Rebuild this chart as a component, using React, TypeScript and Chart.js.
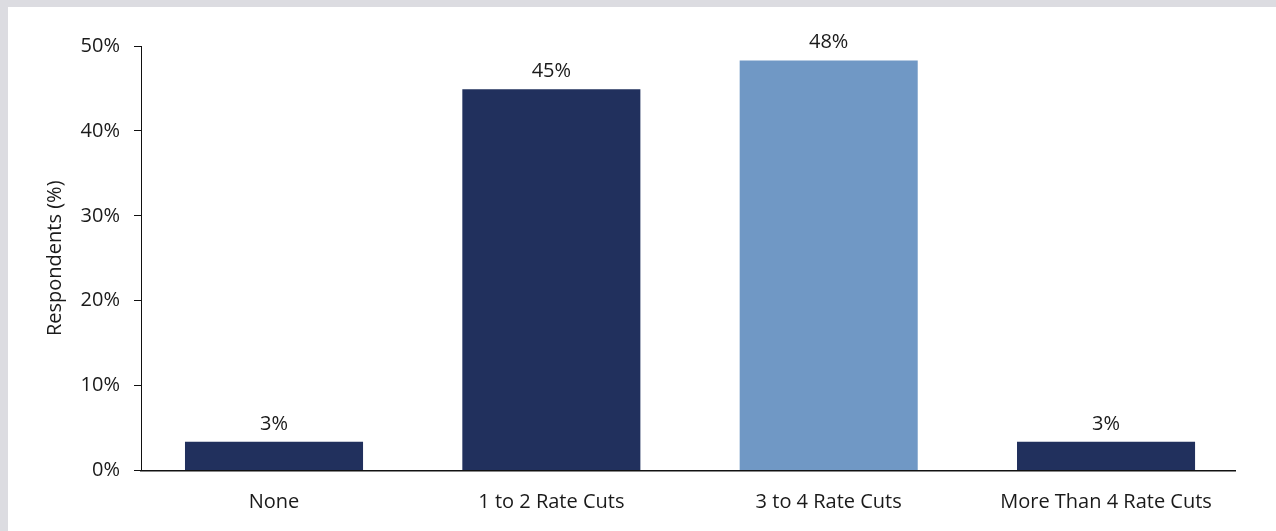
import React, { useEffect, useRef } from "react";
import { Chart, registerables } from "chart.js";

Chart.register(...registerables);

const categories = ["None", "1 to 2 Rate Cuts", "3 to 4 Rate Cuts", "More Than 4 Rate Cuts"];
const respondents = [3.4, 44.9, 48.3, 3.4];
const valueLabels = ["3%", "45%", "48%", "3%"];
const barColors = ["#21305d", "#21305d", "#7098c5", "#21305d"];
const yTicks = [0, 10, 20, 30, 40, 50];

const FONT = "'Open Sans', 'Noto Sans', sans-serif";
const TEXT = "#1a1a1a";

const valueLabelPlugin = {
  id: "valueLabels",
  afterDatasetsDraw(chart: any) {
    const ctx = chart.ctx;
    const meta = chart.getDatasetMeta(0);
    ctx.save();
    ctx.font = `20px ${FONT}`;
    ctx.fillStyle = TEXT;
    ctx.textAlign = "center";
    ctx.textBaseline = "alphabetic";
    meta.data.forEach((bar: any, i: number) => {
      ctx.fillText(valueLabels[i], bar.x, bar.y - 12);
    });
    ctx.restore();
  },
};

export default function App() {
  const ref = useRef<HTMLCanvasElement | null>(null);

  useEffect(() => {
    document.body.style.margin = "0";
    const canvas = ref.current;
    if (!canvas) return;
    const chart = new Chart(canvas, {
      type: "bar",
      data: {
        datasets: [
          {
            data: categories.map((_, i) => ({ x: i, y: respondents[i] })) as any,
            backgroundColor: barColors,
            borderWidth: 0,
            categoryPercentage: 1,
            barPercentage: 0.642,
          },
        ],
      },
      options: {
        animation: false,
        responsive: true,
        maintainAspectRatio: false,
        layout: { padding: { top: 39, right: 41, bottom: 0, left: 0 } },
        plugins: {
          legend: { display: false },
          tooltip: { enabled: false },
        },
        scales: {
          x: {
            type: "linear",
            offset: false,
            min: -0.4796,
            max: 3.465,
            grid: { display: false, drawTicks: false, offset: false },
            border: { display: true, color: "#111", width: 1.5 },
            afterFit: (scale: any) => {
              scale.height = 60.5;
            },
            ticks: {
              stepSize: 1,
              includeBounds: false,
              autoSkip: false,
              maxRotation: 0,
              padding: 20,
              color: TEXT,
              font: { family: FONT, size: 20 },
              callback: (v: any) => (categories[v as number] !== undefined ? categories[v as number] : ""),
            },
          },
          y: {
            min: 0,
            max: 50,
            afterFit: (scale: any) => {
              scale.width = 133;
            },
            afterBuildTicks: (scale: any) => {
              scale.ticks = yTicks.map((v) => ({ value: v }));
            },
            grid: {
              display: true,
              drawOnChartArea: false,
              drawTicks: true,
              tickLength: 7,
              color: "#111",
              lineWidth: 1,
            },
            border: { display: true, color: "#111", width: 1 },
            ticks: {
              padding: 14,
              color: TEXT,
              font: { family: FONT, size: 20 },
              callback: (v: any) => `${v}%`,
            },
            title: {
              display: true,
              text: "Respondents (%)",
              color: TEXT,
              font: { family: FONT, size: 20 },
              padding: { top: 35, bottom: 0 },
            },
          },
        },
      },
      plugins: [valueLabelPlugin],
    });
    return () => chart.destroy();
  }, []);

  return (
    <div
      style={{
        background: "#dcdce1",
        paddingTop: 7,
        paddingLeft: 8,
        width: 1276,
        height: 531,
        boxSizing: "border-box",
        overflow: "hidden",
      }}
    >
      <div style={{ background: "#ffffff", width: 1268, height: 524, position: "relative" }}>
        <canvas ref={ref} />
      </div>
    </div>
  );
}
